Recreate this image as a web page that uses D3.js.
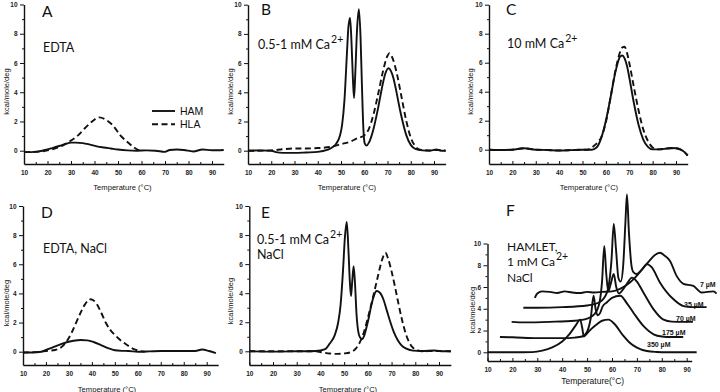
<!DOCTYPE html>
<html><head><meta charset="utf-8">
<script src="https://cdn.jsdelivr.net/npm/d3@7"></script>
<style>
body{margin:0;background:#fff}
svg{display:block}
text{font-family:"Liberation Sans",Arial,sans-serif;fill:#111}
.tick text{font-size:6.5px;font-weight:bold;fill:#222}
.ann{font-family:Lato,"Noto Sans",sans-serif;font-size:12.5px}
.letter{font-family:Lato,"Noto Sans",sans-serif;font-size:15.5px}
</style></head><body>
<svg id="c" width="720" height="392"></svg>
<script>
// ---------- tick labels ----------
const xTicks = [10,20,30,40,50,60,70,80,90];
const xMinor = [15,25,35,45,55,65,75,85];
const yTicks = [0,2,4,6,8,10];
const yMinor = [1,3,5,7,9];

// ---------- Panel A : EDTA ----------
const A_HAM_T = [10,13,16,19,22,25,28,30,32,35,38,41,44,47,50,54,58,62,66,70,72,75,78,82,86,90,95];
const A_HAM   = [-0.1,-0.1,-0.05,0.05,0.18,0.32,0.48,0.55,0.55,0.52,0.42,0.3,0.22,0.15,0.08,0.02,0.0,0.02,0.0,-0.08,0.05,0.08,0.05,-0.05,0.08,0.03,0.05];
const A_HLA_T = [10,15,20,24,27,30,33,36,39,42,45,48,51,54,57,59];
const A_HLA   = [-0.1,-0.08,0.02,0.2,0.4,0.7,1.05,1.55,2.0,2.28,2.1,1.7,1.05,0.6,0.2,0.02];

// ---------- Panel B : 0.5-1 mM Ca ----------
const B_HAM_T = [10,15,20,22,25,30,35,40,44,46,48,49.5,50.5,51.5,52.5,53.2,53.9,54.5,55.1,55.6,56.2,56.9,57.7,58.4,59,59.6,60.2,61,62,63,64,65,66,67,68,69,70.4,71.5,72.5,73.5,74.5,75.5,76.5,78,80,82,85,88,91,93,95];
const B_HAM   = [0,0.02,0,-0.1,-0.15,-0.15,-0.12,-0.08,0.05,0.2,0.5,1.0,1.8,3.5,6.5,8.5,9.1,7.5,5.0,3.6,5.5,8.3,9.7,7.8,4.5,1.6,0.5,0.35,0.55,0.95,1.5,2.2,2.95,3.8,4.6,5.25,5.65,5.45,5.0,4.3,3.5,2.7,2.0,1.1,0.4,0.12,0.02,0,0.08,0,0];
const B_HLA_T = [10,15,20,25,30,35,40,45,50,54,57,60,62,64,66,68,70,70.8,72,74,76,78,80,82,84,88,92,95];
const B_HLA   = [0,0,0.02,0.1,0.15,0.15,0.18,0.25,0.45,0.62,0.85,1.05,1.5,2.5,3.9,5.4,6.5,6.67,6.4,5.3,3.7,2.1,0.9,0.3,0.07,0.02,0.05,0];

// ---------- Panel C : 10 mM Ca ----------
const C_HAM_T = [10,15,20,25,30,35,40,45,50,54,56,58,60,62,64,65,66,67,68,69,70,72,74,76,78,80,83,86,88,90,92,93.5,95];
const C_HAM   = [0,-0.02,0,0.1,0,-0.02,-0.05,-0.03,0,0,0.15,0.8,2.0,3.6,5.3,5.95,6.4,6.5,6.3,5.8,5.0,3.2,1.7,0.7,0.2,0.02,0.02,0.08,0.12,0.1,0,-0.15,-0.4];
const C_HLA_T = [10,15,20,25,30,35,40,45,50,52,54,55.5,57,58,60,62,64,66,67,68,69,70,72,74,76,78,80,82,86,90,93.5,95];
const C_HLA   = [0,-0.02,0,0.1,0,-0.02,-0.05,-0.03,0,0,0.15,0.35,0.6,0.85,1.9,3.6,5.4,6.7,7.05,7.1,6.7,6.0,4.3,2.7,1.4,0.6,0.15,0.02,0.08,0.1,-0.15,-0.4];

// ---------- Panel D : EDTA, NaCl ----------
const D_HAM_T = [10,14,18,20,23,26,29,32,35,38,41,44,47,50,53,56,60,65,70,75,80,85,88,91,94];
const D_HAM   = [-0.05,-0.05,0,0.12,0.3,0.48,0.65,0.75,0.8,0.78,0.65,0.45,0.25,0.1,0.06,0.05,0,0.02,0.05,0.05,0.05,0.05,0.15,0.05,-0.1];
const D_HLA_T = [10,15,20,24,27,29,31,33,35,37,39.5,42,44,46,48,50,52,55,58,61,63];
const D_HLA   = [-0.05,-0.03,0.05,0.12,0.35,0.7,1.25,1.95,2.65,3.25,3.6,3.3,2.7,2.0,1.5,1.15,0.85,0.5,0.2,0.05,0];

// ---------- Panel E : 0.5-1 mM Ca, NaCl ----------
const E_HAM_T = [10,20,30,38,42,44,46,47.5,48.5,49.5,50.3,51.1,51.8,52.4,52.9,53.4,54.0,54.6,55.2,55.9,56.7,57.6,58.5,59.5,60.5,61.5,62.5,63.7,65,66.5,68,69.5,71,72.5,74,76,79,83,88,92,95];
const E_HAM   = [0,-0.02,0,0.02,0.15,0.55,1.1,2.0,3.2,5.5,7.8,8.9,7.0,4.8,3.8,4.8,5.85,4.6,2.6,1.4,0.95,0.85,1.1,1.7,2.4,3.2,3.8,4.15,4.05,3.6,2.8,2.0,1.3,0.8,0.45,0.2,0.05,0.02,0.05,0,0];
const E_HLA_T = [10,20,30,38,41,44,47,50,53,55,57,58.5,60,62,64,66,67.4,68.5,70,71.5,73,74.5,76,77.5,79,81,83,88,95];
const E_HLA   = [0,0,0,0,-0.08,-0.15,-0.18,-0.15,-0.05,0.2,0.75,1.4,2.3,3.6,5.0,6.3,6.78,6.4,5.5,4.4,3.2,2.1,1.2,0.6,0.25,0.06,0,0.02,0];

// ---------- Panel F : HAMLET, 1 mM Ca, NaCl (offset traces) ----------
const F_conc = ["7 \u00b5M","35 \u00b5M","70 \u00b5M","175 \u00b5M","350 \u00b5M"];
const F350_T = [10,20,28,32,36,40,43,45.5,47.2,48,48.7,49.5,51,53.5,56,58.6,61,64.6,67,70,74,78,82,88,94];
const F350   = [0,0,0.02,0.15,0.45,1.0,1.7,2.5,3.0,2.3,1.45,1.6,2.0,2.5,2.9,3.0,2.6,1.5,0.9,0.43,0.12,0.03,0,0,0];
const F175_T = [15,20,30,40,45,48,50,51.5,52.6,53.4,54.2,55.2,56.2,58,60,63.3,66,68.6,72.6,76.7,80,84,88.6];
const F175   = [1.4,1.38,1.3,1.3,1.35,1.45,1.9,3.2,5.2,4.0,3.4,3.6,4.2,4.6,5.0,5.2,4.5,3.64,2.42,1.65,1.45,1.4,1.4];
const F70_T  = [19.7,25,35,45,50,53,55,56,56.9,57.7,58.5,59.5,60.7,61.7,62.8,64.5,66,68,70,72.6,76.7,80.7,84,88,92.5];
const F70    = [2.8,2.75,2.8,2.9,3.1,3.5,4.6,6.5,9.77,7.2,5.6,6.3,7.2,6.0,5.4,5.8,6.3,6.86,6.5,5.5,3.95,3.0,2.82,2.8,2.8];
const F35_T  = [24.4,30,40,50,55,58,59.8,60.7,61.6,62.6,63.5,64.5,65.4,66,66.8,67.7,68.5,70,72,74,76,79.3,84.7,88.7,92,98];
const F35    = [4.1,4.1,4.15,4.3,4.6,5.5,8.5,11.8,9.5,6.8,6.5,8.0,12,14.5,11,8.2,7.4,7.2,7.6,8.1,7.8,6.4,4.87,4.25,4.15,4.15];
const F7_T   = [29,30,32,35,38,41,44,47,50,53,56,60,63,66,69,72,75,77,79.3,81,83.3,86,88.7,92.7,96,100.7,102];
const F7     = [5.0,5.4,5.6,5.55,5.45,5.6,5.5,5.45,5.55,5.5,5.55,5.6,5.8,6.2,6.8,7.6,8.4,8.9,9.15,8.9,8.4,7.0,6.3,6.1,5.5,5.6,5.4];

// ---------- layout (pixel geometry only) ----------
const LAYOUT = {
  A:{x10:24,  x90:212,   xMax:95, y0:150.7, y10:4.5,   yB:164,  ylx:8.5, yly:91.5, tx:122.5, ty:190},
  B:{x10:248, x90:434,   xMax:95, y0:150.7, y10:4.7,   yB:164,  ylx:233, yly:91.5, tx:347,   ty:190},
  C:{x10:489, x90:676,   xMax:95, y0:149.7, y10:4.7,   yB:164,  ylx:473, yly:91.5, tx:589,   ty:190},
  D:{x10:23,  x90:206.7, xMax:95, y0:351.7, y10:206,   yB:365,  ylx:8.5, yly:303,  tx:107,   ty:391.5},
  E:{x10:249.3,x90:439,  xMax:95, y0:351.3, y10:206,   yB:365,  ylx:233, yly:301,  tx:348,   ty:391.5},
  F:{x10:487.5,x90:686.7,xMax:92, y0:352.3, y10:243.5, yB:361,  ylx:475, yly:310,  tx:592.7, ty:384.3, tfs:8.5, tt:"Temperature(\u00b0C)"}
};

const svg = d3.select('#c');
svg.append('rect').attr('width',720).attr('height',392).attr('fill','#fff');

function makePanel(L){
  const x = d3.scaleLinear().domain([10,90]).range([L.x10,L.x90]);
  const y = d3.scaleLinear().domain([0,10]).range([L.y0,L.y10]);
  const g = svg.append('g');
  const vB = y.invert(L.yB);
  const ys = d3.scaleLinear().domain([vB,10]).range([L.yB,L.y10]);
  const xs = d3.scaleLinear().domain([10,L.xMax]).range([L.x10,x(L.xMax)]);
  g.append('g').attr('transform',`translate(${L.x10},0)`)
    .call(d3.axisLeft(ys).tickValues(yTicks).tickSize(4).tickPadding(2.5).tickSizeOuter(0));
  g.append('g').attr('transform',`translate(${L.x10},0)`)
    .call(d3.axisLeft(ys).tickValues(yMinor).tickSize(2).tickFormat('').tickSizeOuter(0))
    .select('.domain').remove();
  g.append('g').attr('transform',`translate(0,${L.yB})`)
    .call(d3.axisBottom(xs).tickValues(xTicks).tickSize(-3).tickPadding(6).tickSizeOuter(0));
  g.append('g').attr('transform',`translate(0,${L.yB})`)
    .call(d3.axisBottom(xs).tickValues(xMinor).tickSize(-2).tickFormat('').tickSizeOuter(0))
    .select('.domain').remove();
  g.selectAll('.domain').attr('stroke','#111').attr('stroke-width',1.4);
  g.selectAll('.tick line').attr('stroke','#111').attr('stroke-width',1);
  g.append('text').attr('transform',`translate(${L.ylx},${L.yly}) rotate(-90)`)
    .attr('text-anchor','middle').style('font-size','7.5px').text('kcal/mole/deg');
  g.append('text').attr('x',L.tx).attr('y',L.ty).attr('text-anchor','middle')
    .style('font-size',(L.tfs||7.6)+'px').text(L.tt||'Temperature (\u00b0C)');
  return {x,y,g};
}

const P = {};
for (const k of Object.keys(LAYOUT)) P[k] = makePanel(LAYOUT[k]);

function trace(p, T, V, dashed){
  const line = d3.line().x(d=>p.x(d[0])).y(d=>p.y(d[1])).curve(d3.curveMonotoneX);
  p.g.append('path').datum(d3.zip(T,V)).attr('d',line)
    .attr('fill','none').attr('stroke','#111').attr('stroke-width',1.9)
    .attr('stroke-linejoin','round')
    .attr('stroke-dasharray',dashed?'6,3.5':null);
}
trace(P.A,A_HAM_T,A_HAM,false); trace(P.A,A_HLA_T,A_HLA,true);
trace(P.B,B_HAM_T,B_HAM,false); trace(P.B,B_HLA_T,B_HLA,true);
trace(P.C,C_HAM_T,C_HAM,false); trace(P.C,C_HLA_T,C_HLA,true);
trace(P.D,D_HAM_T,D_HAM,false); trace(P.D,D_HLA_T,D_HLA,true);
trace(P.E,E_HAM_T,E_HAM,false); trace(P.E,E_HLA_T,E_HLA,true);
trace(P.F,F7_T,F7,false); trace(P.F,F35_T,F35,false); trace(P.F,F70_T,F70,false);
trace(P.F,F175_T,F175,false); trace(P.F,F350_T,F350,false);

// ---------- annotations ----------
function letter(x,y,t){ svg.append('text').attr('class','letter').attr('x',x).attr('y',y).text(t); }
function ann(x,y,t,sup,fs){
  const el = svg.append('text').attr('class','ann').attr('x',x).attr('y',y).text(t);
  if (fs) el.style('font-size',fs+'px');
  if (sup) el.append('tspan').attr('dx',1).attr('dy',-6).style('font-size','10.5px').text(sup);
}
letter(42,17,'A'); ann(43,51.5,'EDTA');
letter(261,15,'B'); ann(258,49,'0.5-1 mM Ca','2+');
letter(506,15,'C'); ann(507,48,'10 mM Ca','2+');
letter(41,218,'D'); ann(43,253,'EDTA, NaCl');
letter(261,218,'E'); ann(257,243.5,'0.5-1 mM Ca','2+'); ann(257,259,'NaCl');
letter(506,216,'F');
ann(507,250.5,'HAMLET,',null,12); ann(507,266,'1 mM Ca','2+',12); ann(507,281.5,'NaCl',null,12);

// legend (panel A)
const legend = [{name:'HAM',dash:null,y:111},{name:'HLA',dash:'6,3.5',y:124.3}];
legend.forEach(d=>{
  svg.append('line').attr('x1',152).attr('x2',175).attr('y1',d.y).attr('y2',d.y)
    .attr('stroke','#111').attr('stroke-width',1.9).attr('stroke-dasharray',d.dash);
  svg.append('text').attr('x',180).attr('y',d.y+4).style('font-size','10.5px').text(d.name);
});

// concentration labels (panel F)
const concPos = [[700,287],[684,306.5],[676,320.5],[662,334.5],[647,346.5]];
F_conc.forEach((t,i)=>{
  svg.append('text').attr('x',concPos[i][0]).attr('y',concPos[i][1])
    .style('font-size','7px').style('font-weight','bold').text(t);
});
</script>
</body></html>
